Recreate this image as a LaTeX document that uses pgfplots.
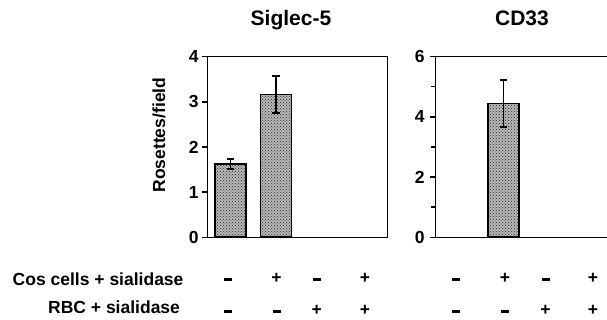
\documentclass[border=0pt]{standalone}
\usepackage{fontspec}
\setmainfont{Liberation Sans}
\usepackage{pgfplots}
\pgfplotsset{compat=1.18}
\usetikzlibrary{patterns}
\newcommand\dsh{\rule[2.5pt]{8pt}{3.2pt}}
\pgfplotsset{
  myax/.style={
    scale only axis,
    height=180.6pt,
    ymin=0,
    axis line style={line width=1.4pt},
    tick align=outside,
    ytick pos=left,
    xtick style={draw=none},
    ytick style={line width=1.4pt, black},
    major tick length=5.5pt,
    minor tick length=4pt,
    /pgf/number format/assume math mode=true,
    ticklabel style={font=\bfseries\fontsize{17.5}{20}\selectfont},
    xticklabel style={anchor=base, inner sep=0pt, yshift=-41.2pt},
    extra x tick style={xticklabel style={yshift=-31.8pt}},
    title style={font=\bfseries\fontsize{21}{25}\selectfont, anchor=base, yshift=25pt},
    ybar, bar width=0.68,
    error bars/y dir=both, error bars/y explicit,
    error bars/error bar style={line width=1.4pt, black},
    error bars/error mark options={rotate=90, mark size=3.8pt, line width=1.4pt, black},
  },
  mybar/.style={draw=black, line width=1.7pt, fill=black!28, postaction={pattern=crosshatch dots, pattern color=black!85}},
}
\begin{document}
\begin{tikzpicture}[font=\bfseries]
\useasboundingbox (0,0) rectangle (607pt,320pt);
\begin{axis}[myax,
  at={(207.75pt,82.7pt)}, anchor=south west,
  width=180pt,
  xmin=-0.5, xmax=3.45,
  ymax=4, ytick={0,1,2,3,4},
  xtick={-0.05,1.01,1.89,2.95}, xticklabels={\dsh,+,\dsh,+},
  extra x ticks={-0.05,1.01,1.89,2.95}, extra x tick labels={\dsh,\dsh,+,+},
  ylabel={Rosettes/field},
  ylabel style={font=\bfseries\fontsize{17.5}{20}\selectfont, at={(axis description cs:-0.271,0.566)}, anchor=center},
  title={Siglec-5},
  title style={at={(axis description cs:0.4625,1)}},
]
\addplot[mybar] coordinates {(0,1.62) +- (0,0.11) (1,3.16) +- (0,0.41)};
\end{axis}
\begin{axis}[myax,
  at={(435.25pt,82.7pt)}, anchor=south west,
  width=171.75pt,
  axis x line*=box, axis y line*=left,
  xmin=-0.5, xmax=3.27,
  ymax=6, ytick={0,2,4,6}, minor ytick={1,3,5},
  xtick={-0.05,1.03,1.92,2.96}, xticklabels={\dsh,+,\dsh,+},
  extra x ticks={-0.05,1.03,1.92,2.96}, extra x tick labels={\dsh,\dsh,+,+},
  yticklabel style={xshift=-1.5pt},
  title={CD33},
  title style={at={(axis description cs:0.505,1)}},
]
\addplot[mybar] coordinates {(1,4.45) +- (0,0.78)};
\end{axis}
\node[anchor=base east, font=\bfseries\fontsize{17.5}{20}\selectfont] at (187pt,34pt) {Cos cells + sialidase};
\node[anchor=base east, font=\bfseries\fontsize{17.5}{20}\selectfont] at (183.5pt,6.5pt) {RBC + sialidase};
\end{tikzpicture}
\end{document}
